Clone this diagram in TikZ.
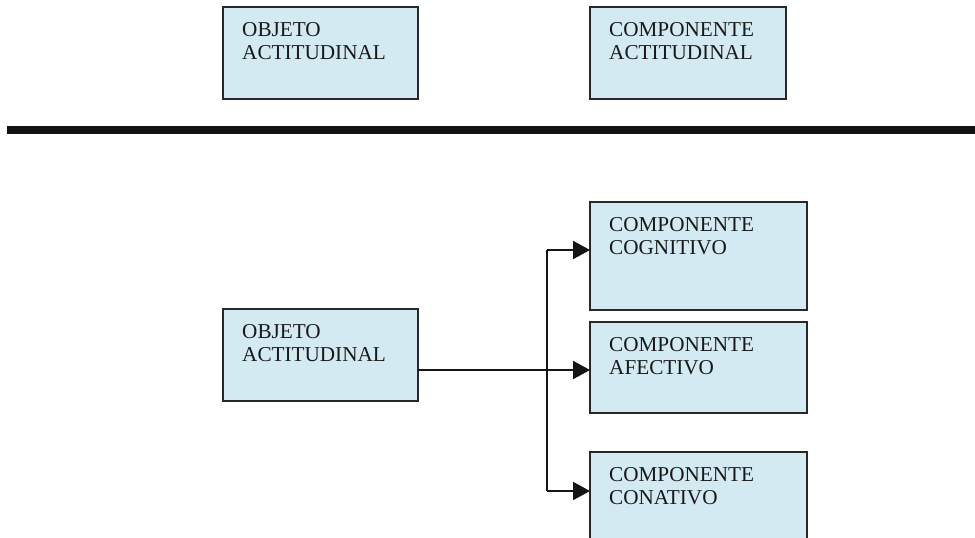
\documentclass[tikz,border=0pt]{standalone}
\usepackage{fontspec}
\setmainfont{Liberation Serif}
\usetikzlibrary{arrows.meta,calc}
\definecolor{boxfill}{RGB}{211,234,242}
\definecolor{boxline}{RGB}{40,40,40}
\tikzset{
  box/.style={draw=boxline, fill=boxfill, line width=1.3pt, inner sep=0pt, outer sep=0pt, anchor=north west},
  lbl/.style={anchor=base west, inner sep=0pt, text width=190pt, align=left, text=black!90,
    font=\fontsize{21.2}{23.4}\selectfont},
  conn/.style={draw=black!92, line width=2pt},
  arr/.style={conn, -{Triangle[length=17pt,width=18pt]}, shorten >=0pt},
}
\begin{document}
\begin{tikzpicture}[x=1pt,y=-1pt]
\clip (0,0) rectangle (975,538);
\fill[white] (0,0) rectangle (975,538);
% top row
\node[box, minimum width=195pt, minimum height=92pt] (t1) at (223,7) {};
\node[lbl] (t1t) at ($(t1.north west)+(19,29.5)$) {OBJETO\\ACTITUDINAL};
\node[box, minimum width=196pt, minimum height=92pt] (t2) at (590,7) {};
\node[lbl] (t2t) at ($(t2.north west)+(19,29.5)$) {COMPONENTE\\ACTITUDINAL};
% thick separator
\fill[black!93] (7,126) rectangle (975,134);
% bottom diagram
\node[box, minimum width=195pt, minimum height=92pt] (ob) at (223,309) {};
\node[lbl] (obt) at ($(ob.north west)+(19,29.5)$) {OBJETO\\ACTITUDINAL};
\node[box, minimum width=217pt, minimum height=108pt] (cog) at (590,202) {};
\node[lbl] (cogt) at ($(cog.north west)+(19,29.5)$) {COMPONENTE\\COGNITIVO};
\node[box, minimum width=217pt, minimum height=91pt] (afe) at (590,322) {};
\node[lbl] (afet) at ($(afe.north west)+(19,29.5)$) {COMPONENTE\\AFECTIVO};
\node[box, minimum width=217pt, minimum height=100pt] (con) at (590,452) {};
\node[lbl] (cont) at ($(con.north west)+(19,29.5)$) {COMPONENTE\\CONATIVO};
% connectors
\coordinate (s) at ($(ob.north east)+(0,61)$);
\coordinate (br) at (547,370);
\coordinate (e1) at ($(cog.north west)+(0,48)$);
\coordinate (e2) at (afe.west |- s);
\coordinate (e3) at ($(con.north west)+(0,39)$);
\draw[arr] (s) -- (e2);
\draw[conn] (br |- e1) -- (br |- e3);
\draw[arr] (br |- e1) -- (e1);
\draw[arr] (br |- e3) -- (e3);
\end{tikzpicture}
\end{document}
